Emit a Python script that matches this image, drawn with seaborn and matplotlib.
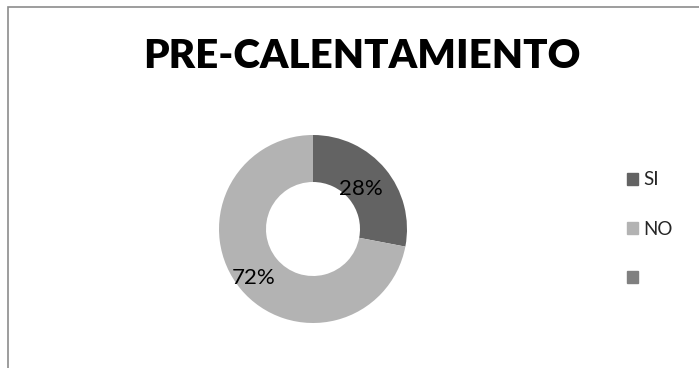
import matplotlib
matplotlib.use("Agg")
import matplotlib.pyplot as plt
import matplotlib.patches as mpatches
import numpy as np
import seaborn as sns

categories = ["SI", "NO"]
values = [28, 72]
legend_labels = ["SI", "NO", ""]
title = "PRE-CALENTAMIENTO"

sns.set_theme(style="white")
plt.rcParams['font.family'] = ['Lato', 'DejaVu Sans']

colors = ["#636363", "#b3b3b3"]
extra_color = "#808080"

fig = plt.figure(figsize=(6.99, 3.68), dpi=100)
fig.patch.set_facecolor("white")

# outer border
border = mpatches.Rectangle((8/699, 0 - 0.1), 1.2, 1 - 7/368 + 0.1, transform=fig.transFigure,
                            fill=False, edgecolor="#8c8c8c", linewidth=1.2)
fig.add_artist(border)

ax = fig.add_axes([(313-94)/699, (368-229-94)/368, 188/699, 188/368])
wedges, _ = ax.pie(values, colors=colors, startangle=90, counterclock=False,
                   radius=1, wedgeprops=dict(width=0.5, edgecolor="none"))
ax.set_xlim(-1, 1)
ax.set_ylim(-1, 1)
ax.set_aspect("auto")
ax.axis("off")

dists = [0.66, 0.82]
for w, v, d in zip(wedges, values, dists):
    ang = np.deg2rad((w.theta1 + w.theta2) / 2)
    ax.text(d*np.cos(ang), d*np.sin(ang), f"{v}%", ha="center", va="center",
            fontsize=16, color="black")

fig.text(362/699, 1 - 56/368, title, ha="center", va="center",
         fontsize=29, fontweight="heavy", color="black")

handles = [mpatches.Patch(color=c) for c in colors + [extra_color]]
leg = fig.legend(handles, legend_labels, loc="center left",
                 bbox_to_anchor=(619/699, 1 - 229/368), frameon=False,
                 fontsize=13.5, handlelength=0.6, handleheight=0.6,
                 handletextpad=0.3, labelspacing=1.72, borderaxespad=0)

fig.savefig("out.png", dpi=100, facecolor="white")
